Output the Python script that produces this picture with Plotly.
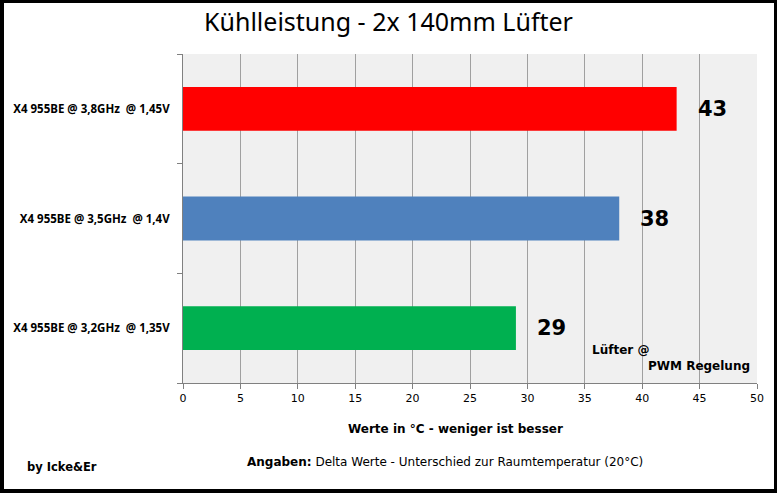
import plotly.graph_objects as go

categories = ["X4 955BE @ 3,2GHz  @ 1,35V", "X4 955BE @ 3,5GHz  @ 1,4V", "X4 955BE @ 3,8GHz  @ 1,45V"]
values = [29, 38, 43]
colors = ["#00B050", "#4F81BD", "#FF0000"]
x_ticks = [0, 5, 10, 15, 20, 25, 30, 35, 40, 45, 50]

W, H = 777, 493
L, R, T, B = 183, 20, 54, 110
PW, PH = W - L - R, H - T - B

def px(x):
    return (x - L) / PW

def py(y):
    return (H - B - y) / PH

fig = go.Figure()
fig.add_trace(go.Bar(
    y=categories, x=values, orientation="h",
    marker=dict(color=colors, line=dict(width=0)),
    hoverinfo="skip",
))

annotations = []
for c, v in zip(categories, values):
    annotations.append(dict(
        x=v, y=c, xref="x", yref="y", text=f"<b>{v}</b>", showarrow=False,
        xanchor="left", xshift=19,
        font=dict(family="DejaVu Sans", size=21, color="black"),
    ))

annotations += [
    dict(text="Kühlleistung - 2x 140mm Lüfter", xref="paper", yref="paper",
         x=px(388), y=py(21), xanchor="center", yanchor="middle", showarrow=False,
         font=dict(family="Noto Sans", size=25, color="black")),
    dict(text="<b>Werte in °C - weniger ist besser</b>", xref="paper", yref="paper",
         x=px(455), y=py(429), xanchor="center", yanchor="middle", showarrow=False,
         font=dict(family="DejaVu Sans", size=12, color="black")),
    dict(text="<b>Angaben:</b> Delta Werte - Unterschied zur Raumtemperatur (20°C)", xref="paper", yref="paper",
         x=px(445), y=py(462), xanchor="center", yanchor="middle", showarrow=False,
         font=dict(family="DejaVu Sans", size=12, color="black")),
    dict(text="<b>by Icke&amp;Er</b>", xref="paper", yref="paper",
         x=px(25), y=py(467), xanchor="left", yanchor="middle", showarrow=False,
         font=dict(family="DejaVu Sans", size=11.5, color="black")),
    dict(text="<b>Lüfter @</b>", xref="paper", yref="paper",
         x=px(590), y=py(350), xanchor="left", yanchor="middle", showarrow=False,
         font=dict(family="DejaVu Sans", size=12, color="black")),
    dict(text="<b>PWM Regelung</b>", xref="paper", yref="paper",
         x=px(752), y=py(366), xanchor="right", yanchor="middle", showarrow=False,
         font=dict(family="DejaVu Sans", size=12, color="black")),
]

shapes = []
for (x0, y0, x1, y1) in [(0, 0, 4, H), (0, 0, W, 3), (774, 0, W, H), (0, 489, W, H)]:
    shapes.append(dict(type="rect", xref="paper", yref="paper",
                       x0=px(x0), x1=px(x1), y0=py(y1), y1=py(y0),
                       fillcolor="black", line=dict(width=0), layer="above"))

fig.update_layout(
    width=W, height=H,
    margin=dict(l=L, r=R, t=T, b=B),
    paper_bgcolor="white", plot_bgcolor="#F0F0F0",
    bargap=0.6, showlegend=False,
    annotations=annotations, shapes=shapes,
    font=dict(family="DejaVu Sans", color="black"),
    xaxis=dict(range=[0, 50], tickvals=x_ticks, showgrid=True, gridcolor="#A0A0A0", gridwidth=1,
               showline=True, linecolor="#808080", linewidth=1, ticks="outside", ticklen=5,
               tickcolor="#808080", tickfont=dict(size=11, family="DejaVu Sans"), zeroline=False,
               fixedrange=True, automargin=False),
    yaxis=dict(categoryorder="array", categoryarray=categories, showline=True, linecolor="#808080",
               linewidth=1, ticks="outside", ticklen=5, tickcolor="#808080", tickson="boundaries",
               tickfont=dict(size=11.5, family="Noto Sans"), showgrid=False, ticklabelstandoff=10,
               fixedrange=True, automargin=False),
)
fig.update_yaxes(tickprefix="<b>", ticksuffix="</b>")

fig.write_html("out.html")
